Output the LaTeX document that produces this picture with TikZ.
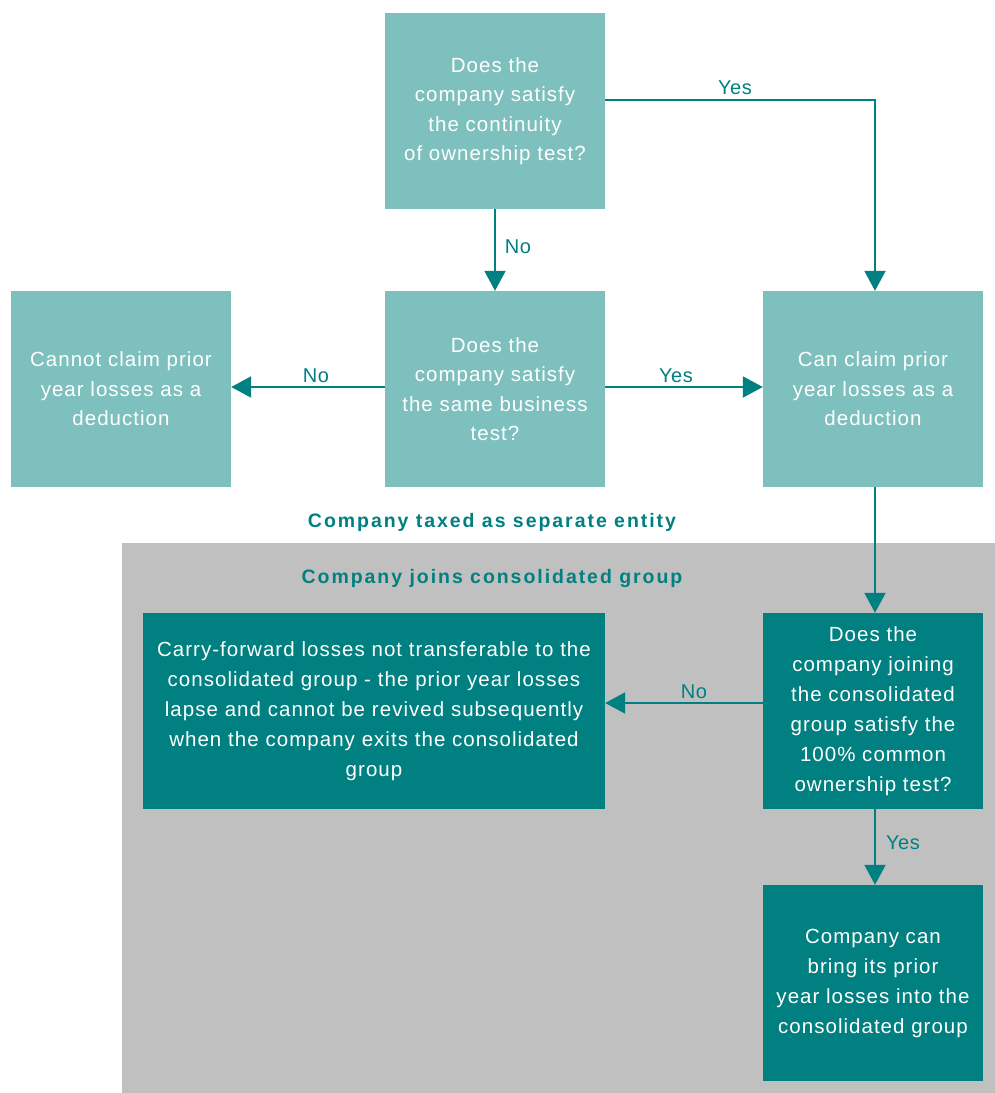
\documentclass[tikz,border=0pt]{standalone}
\usepackage{fontspec}
\setmainfont{Liberation Sans}
\usetikzlibrary{arrows.meta}
\definecolor{tealdark}{RGB}{0,128,128}
\definecolor{teallight}{RGB}{126,192,190}
\definecolor{graybg}{RGB}{192,192,192}
\tikzset{
  x=1pt,y=-1pt,
  lightbox/.style={rectangle, fill=teallight, minimum width=220pt, minimum height=196pt,
    inner sep=2pt, align=center, text=white, font=\fontsize{20.5}{29.5}\selectfont\addfontfeatures{LetterSpace=5}},
  darkbox/.style={rectangle, fill=tealdark, minimum height=196pt,
    inner sep=2pt, align=center, text=white, font=\fontsize{20.5}{30}\selectfont\addfontfeatures{LetterSpace=5}},
  conn/.style={draw=tealdark, line width=2pt, -{Triangle[length=20pt,width=21pt]}},
  elabel/.style={text=tealdark, font=\fontsize{20}{22}\selectfont\addfontfeatures{LetterSpace=3}},
  head/.style={text=tealdark, font=\bfseries\fontsize{19.5}{22}\selectfont\addfontfeatures{LetterSpace=10}}
}
\begin{document}
\begin{tikzpicture}
\useasboundingbox (0,0) rectangle (995,1093);
\fill[white] (0,0) rectangle (995,1093);
\fill[graybg] (122,543) rectangle (995,1093);

\node[lightbox] (top) at (495,111) {Does the\\company satisfy\\the continuity\\of ownership test?};
\node[lightbox] (mid) at (495,389) {Does the\\company satisfy\\the same business\\test?};
\node[lightbox] (left) at (121,389) {Cannot claim prior\\year losses as a\\deduction};
\node[lightbox] (right) at (873,389) {Can claim prior\\year losses as a\\deduction};

\node[head] (sep) at (492,522) {Company taxed as separate entity};
\node[head] (join) at (492,578) {Company joins consolidated group};

\node[darkbox, minimum width=462pt, text width=458pt] (lapse) at (374,711) {Carry-forward losses not transferable to the\\consolidated group - the prior year losses\\lapse and cannot be revived subsequently\\when the company exits the consolidated\\group};
\node[darkbox, minimum width=220pt] (common) at (873,711) {Does the\\company joining\\the consolidated\\group satisfy the\\100\%{} common\\ownership test?};
\node[darkbox, minimum width=220pt] (bring) at (873,983) {Company can\\bring its prior\\year losses into the\\consolidated group};

\coordinate (topout) at (605,100);
\draw[conn] (topout) -| ([xshift=2pt]right.north);
\node[elabel] (y1) at (735,88) {Yes};
\draw[conn] (top.south) -- (mid.north);
\node[elabel] (n1) at (518,247) {No};
\draw[conn] ([yshift=2pt]mid.west) -- ([yshift=2pt]left.east);
\node[elabel] (n2) at (316,376) {No};
\draw[conn] ([yshift=2pt]mid.east) -- ([yshift=2pt]right.west);
\node[elabel] (y2) at (676,376) {Yes};
\draw[conn] ([xshift=2pt]right.south) -- ([xshift=2pt]common.north);
\draw[conn] ([yshift=8pt]common.west) -- ([yshift=8pt]lapse.east);
\node[elabel] (n3) at (694,692) {No};
\draw[conn] ([xshift=2pt]common.south) -- ([xshift=2pt]bring.north);
\node[elabel] (y3) at (903,843) {Yes};
\end{tikzpicture}
\end{document}
